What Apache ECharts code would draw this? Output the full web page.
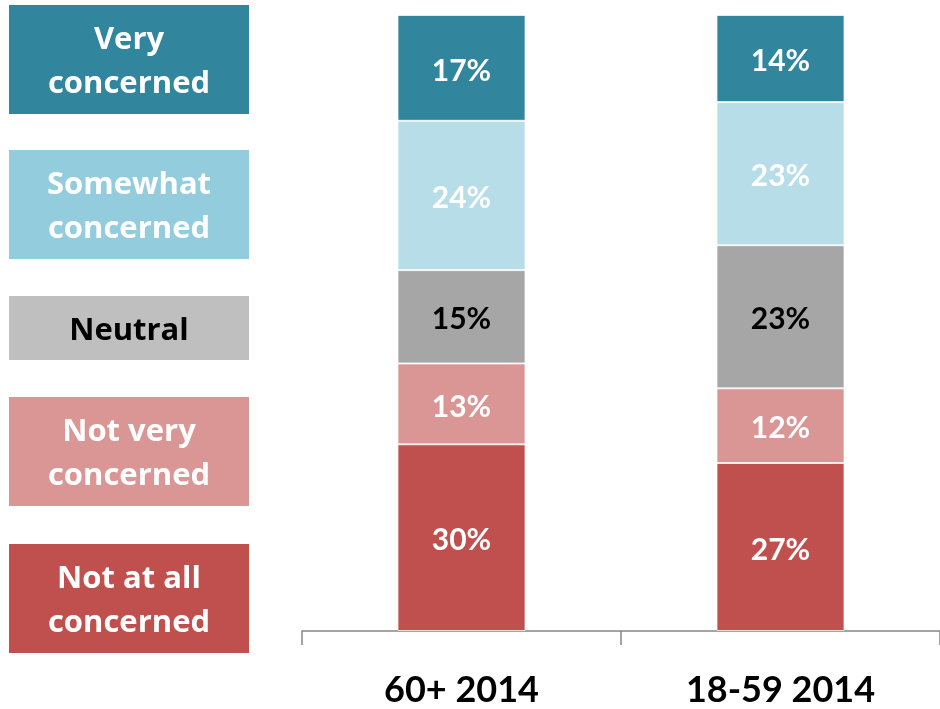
<!DOCTYPE html>
<html>
<head>
<meta charset="utf-8">
<script src="https://cdn.jsdelivr.net/npm/echarts@6/dist/echarts.min.js"></script>
<style>html,body{margin:0;padding:0;background:#fff}#c{width:940px;height:709px}</style>
</head>
<body>
<div id="c"></div>
<script>
var categories = ['60+ 2014', '18-59 2014'];
var seriesNames = ['Not at all\nconcerned', 'Not very\nconcerned', 'Neutral', 'Somewhat\nconcerned', 'Very\nconcerned'];
var notAtAll = [30, 27];
var notVery = [13, 12];
var neutral = [15, 23];
var somewhat = [24, 23];
var very = [17, 14];

var values = [notAtAll, notVery, neutral, somewhat, very];
var barColors = ['#C0504D', '#D99694', '#A6A6A6', '#B7DEE8', '#31859C'];
var legendColors = ['#C0504D', '#D99694', '#BFBFBF', '#93CDDD', '#31859C'];
var labelColors = ['#fff', '#fff', '#000', '#fff', '#fff'];
var legendTextColors = ['#fff', '#fff', '#000', '#fff', '#fff'];
// legend boxes: [top, height]
var legendBoxes = [[544, 109], [397, 109], [296, 64], [150, 109], [5, 109]];

var chart = echarts.init(document.getElementById('c'));
var series = values.map(function (v, i) {
  return {
    name: seriesNames[i],
    type: 'bar',
    stack: 'total',
    data: v,
    barWidth: 128,
    itemStyle: { color: barColors[i], borderColor: 'rgba(255,255,255,0.7)', borderWidth: 1 },
    label: {
      show: true,
      position: 'inside',
      offset: [0, 3],
      formatter: '{c}%',
      color: labelColors[i],
      fontFamily: 'Lato',
      fontWeight: 'bold',
      fontSize: 30
    }
  };
});

var graphics = legendBoxes.map(function (b, i) {
  return {
    type: 'group',
    left: 9,
    top: b[0],
    children: [
      { type: 'rect', shape: { x: 0, y: 0, width: 240, height: b[1] }, style: { fill: legendColors[i] } },
      { type: 'text', x: 120, y: b[1] / 2 + 3,
        style: { text: seriesNames[i], fill: legendTextColors[i], font: 'bold 31px "Open Sans"',
                 align: 'center', verticalAlign: 'middle', lineHeight: 44 } }
    ]
  };
});

chart.setOption({
  animation: false,
  grid: { left: 302, top: 15, width: 643, bottom: 78, containLabel: false },
  xAxis: {
    type: 'category',
    data: categories,
    axisLine: { lineStyle: { color: '#868686', width: 1.5 } },
    axisTick: { show: true, length: 14, lineStyle: { color: '#868686', width: 1.5 } },
    axisLabel: { color: '#000', fontFamily: 'Lato', fontWeight: 'bold', fontSize: 36, margin: 41 }
  },
  yAxis: { type: 'value', min: 0, max: 99, show: false, splitLine: { show: false } },
  series: series,
  graphic: graphics
});
</script>
</body>
</html>
